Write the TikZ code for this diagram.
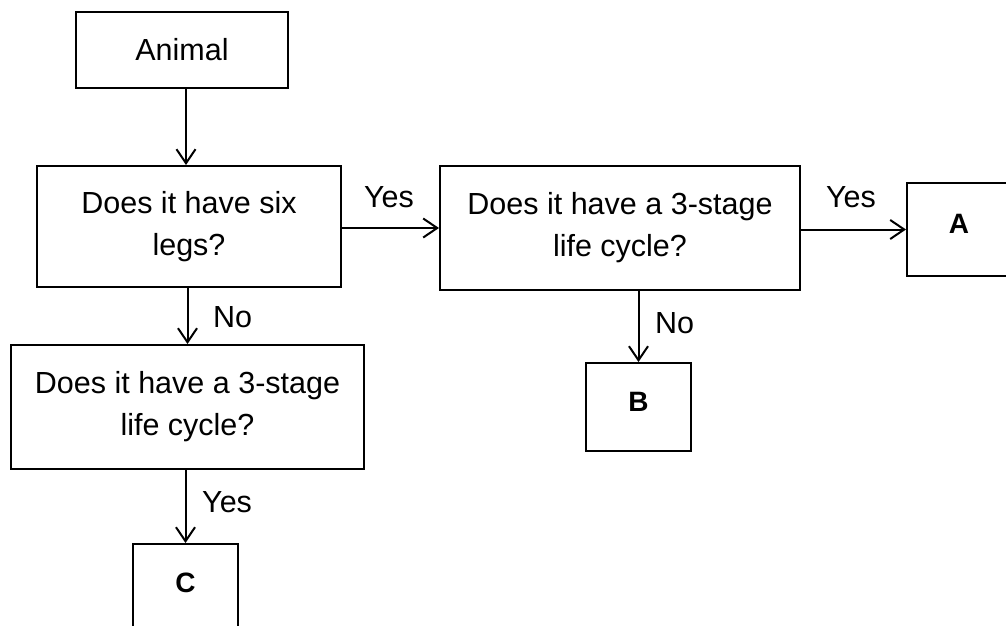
\documentclass[tikz,border=0pt]{standalone}
\usepackage{fontspec}
\setmainfont{Liberation Sans}
\usetikzlibrary{arrows.meta}
\begin{document}
\begin{tikzpicture}[x=1pt,y=-1pt,
  box/.style={draw, line width=2pt, inner sep=0pt, align=center,
    font=\fontsize{30.5}{42}\selectfont},
  letterbox/.style={draw, line width=2pt, inner sep=0pt,
    text height=20pt, text depth=12pt,
    font=\fontsize{28}{32}\selectfont\bfseries},
  arr/.style={line width=2pt, -{Straight Barb[length=14pt,width=19pt,line width=2pt]}},
  lbl/.style={inner sep=0pt, font=\fontsize{30.5}{36}\selectfont}]
\useasboundingbox (0,0) rectangle (1006,625);
\clip (0,0) rectangle (1006,625);
\fill[white] (0,0) rectangle (1006,625);

\node[box, minimum width=212pt, minimum height=76pt] (animal) at (182,50) {Animal};
\node[box, minimum width=304pt, minimum height=121pt] (legs) at (189,226.5) {Does it have six\\legs?};
\node[box, minimum width=360pt, minimum height=124pt] (life1) at (620,228) {Does it have a 3-stage\\life cycle?};
\node[box, minimum width=353pt, minimum height=124pt] (life2) at (187.5,407) {Does it have a 3-stage\\life cycle?};
\node[letterbox, minimum width=104pt, minimum height=93pt] (A) at (959,229.5) {A};
\node[letterbox, minimum width=105pt, minimum height=88pt] (B) at (638.5,407) {B};
\node[letterbox, minimum width=105pt, minimum height=88pt] (C) at (185.5,588) {C};

\draw[arr] ([xshift=4pt]animal.south) -- ([xshift=4pt]animal.south |- legs.north);
\draw[arr] (legs.east |- life1.west) -- (life1.west);
\draw[arr] (life1.east |- A.west) -- (A.west);
\draw[arr] (life2.north |- legs.south) -- (life2.north);
\draw[arr] (B.north |- life1.south) -- (B.north);
\draw[arr] (C.north |- life2.south) -- (C.north);

\node[lbl, anchor=base] (yes1) at (389,207) {Yes};
\node[lbl, anchor=base] (yes2) at (851,207) {Yes};
\node[lbl, anchor=base west] (no1) at (213,327) {No};
\node[lbl, anchor=base west] (no2) at (655,333) {No};
\node[lbl, anchor=base west] (yes3) at (202,512) {Yes};
\end{tikzpicture}
\end{document}
